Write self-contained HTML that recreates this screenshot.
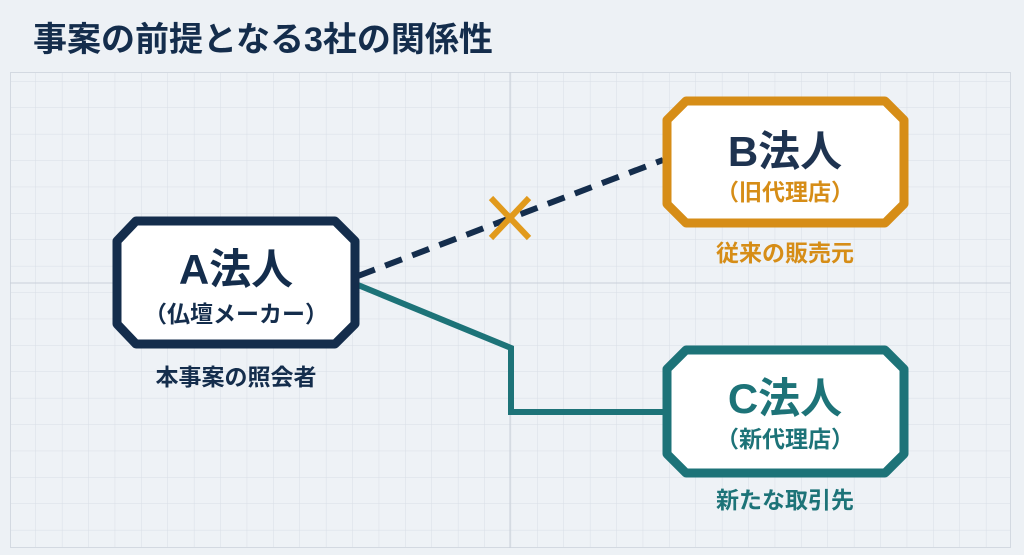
<!DOCTYPE html>
<html><head><meta charset="utf-8"><style>
body{margin:0;width:1024px;height:555px;background:#edf1f5;overflow:hidden;font-family:"Liberation Sans","Noto Sans CJK JP",sans-serif;}
</style></head><body>
<svg width="1024" height="555" viewBox="0 0 1024 555" xmlns="http://www.w3.org/2000/svg" style="position:absolute;left:0;top:0">
<defs>
<pattern id="g" x="9.6" y="2.4" width="26.4" height="26.4" patternUnits="userSpaceOnUse">
<path d="M26.4 0V26.4M0 26.4H26.4" stroke="#d8dee6" stroke-width="1" fill="none"/>
</pattern>
</defs>
<rect x="10" y="72" width="1001" height="476" fill="#eef2f6"/>
<rect x="10" y="72" width="1001" height="476" fill="url(#g)"/>
<rect x="10.5" y="72.5" width="1000" height="475" fill="none" stroke="#d3d9e1"/>
<line x1="510" y1="72" x2="510" y2="548" stroke="#c9d0d9"/>
<line x1="10" y1="283" x2="1011" y2="283" stroke="#c9d0d9"/>
<text x="33" y="51" font-size="34" font-weight="bold" fill="#142d4c" font-family="Liberation Sans,Noto Sans CJK JP,sans-serif">事案の前提となる3社の関係性</text>

<line x1="358" y1="276" x2="663" y2="160" stroke="#142d4c" stroke-width="6" stroke-dasharray="18 11"/>
<polyline points="358,285 511,348 511,412 663,412" fill="none" stroke="#1d7378" stroke-width="6"/>
<g stroke="#e19a1c" stroke-width="6"><line x1="491" y1="198" x2="529" y2="238"/><line x1="529" y1="198" x2="491" y2="238"/></g>

<polygon points="136,221 335,221 355,241 355,324 335,344 136,344 117,324 117,241" fill="#fff" stroke="#142d4c" stroke-width="9" stroke-linejoin="round"/>
<polygon points="686,101 885,101 904,120 904,204 885,223 686,223 667,204 667,120" fill="#fff" stroke="#d68d17" stroke-width="9" stroke-linejoin="round"/>
<polygon points="686,350 885,350 904,369 904,454 885,473 686,473 667,454 667,369" fill="#fff" stroke="#1d7378" stroke-width="9" stroke-linejoin="round"/>

<g font-family="Liberation Sans,Noto Sans CJK JP,sans-serif" font-weight="bold" text-anchor="middle">
<text x="236" y="284" font-size="42" fill="#142d4c">A法人</text>
<text x="236" y="322" font-size="23" fill="#142d4c">（仏壇メーカー）</text>
<text x="236" y="385" font-size="23" fill="#142d4c">本事案の照会者</text>
<text x="785" y="166" font-size="42" fill="#1e3350">B法人</text>
<text x="785" y="200" font-size="23" fill="#d68d17">（旧代理店）</text>
<text x="785" y="261" font-size="23" fill="#d68d17">従来の販売元</text>
<text x="785" y="413" font-size="42" fill="#1d7378">C法人</text>
<text x="785" y="447" font-size="23" fill="#1d7378">（新代理店）</text>
<text x="785" y="508" font-size="23" fill="#1d7378">新たな取引先</text>
</g>
</svg>
</body></html>
